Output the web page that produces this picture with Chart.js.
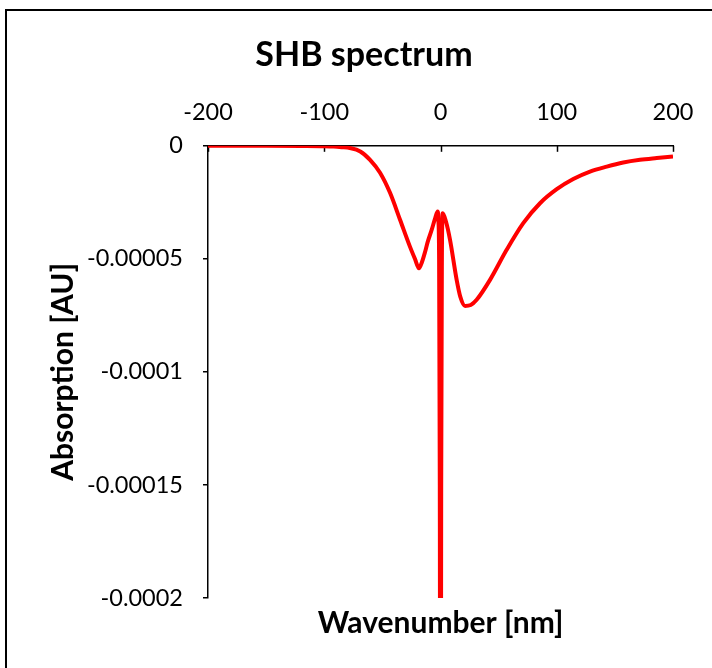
<!DOCTYPE html>
<html>
<head>
<meta charset="utf-8">
<title>SHB spectrum</title>
<script src="https://cdn.jsdelivr.net/npm/chart.js@4"></script>
<style>
  html, body { margin: 0; padding: 0; background: #fff; overflow: hidden; }
  #frame { position: absolute; left: 5px; top: 9px; width: 800px; height: 800px; border: 2px solid #000; }
  #wrap { position: absolute; left: 0; top: 0; width: 712px; height: 668px; }
</style>
</head>
<body>
<div id="frame"></div>
<div id="wrap"><canvas id="shbChart" width="712" height="668"></canvas></div>
<script>
// spectrum samples (wavenumber, absorption)
const wavenumber = [
  -200, -150, -120, -100, -92, -85, -78, -69, -60.6, -52, -43.4, -34.8, -26.2,
  -22, -18.5, -16, -13.3, -11, -7.6, -4.7, -2.4, -1.8, -1.2, -0.6, 0, 0.6, 1.2, 1.5, 1.9,
  4.7, 8.2, 13.9, 17, 21.1, 26, 31.1, 42.6, 56.9, 71.2, 85.6, 100, 114.2,
  128.6, 143, 157.2, 171.6, 186, 200
];
const absorption = [
  0, 0, -0.00000005, -0.00000015, -0.0000003, -0.0000006, -0.000001, -0.0000025,
  -0.0000062, -0.0000119, -0.0000208, -0.0000327, -0.0000447,
  -0.00005, -0.0000542, -0.0000515, -0.000047, -0.0000425, -0.0000372, -0.0000322, -0.0000291,
  -0.000033, -0.00005, -0.00015, -0.0004, -0.00015, -0.00005, -0.000034, -0.0000298,
  -0.0000335, -0.0000416, -0.0000593, -0.0000667, -0.0000708, -0.0000704, -0.0000681,
  -0.0000593, -0.000046, -0.0000342, -0.0000254, -0.0000192, -0.0000147,
  -0.0000114, -0.0000092, -0.0000074, -0.0000062, -0.0000054, -0.0000047
];
const xTicks = [-200, -100, 0, 100, 200];
const yTicks = [0, -0.00005, -0.0001, -0.00015, -0.0002];

const points = wavenumber.map((x, i) => ({ x: x, y: absorption[i] }));

// x ticks point down into the plot area
const innerTicks = {
  id: 'innerTicks',
  beforeDatasetsDraw(chart) {
    const sx = chart.scales.x;
    const ctx = chart.ctx;
    ctx.save();
    ctx.strokeStyle = '#000';
    ctx.lineWidth = 1.5;
    sx.ticks.forEach(t => {
      const px = Math.round(sx.getPixelForValue(t.value)) + 0.5;
      ctx.beginPath();
      ctx.moveTo(px, sx.bottom);
      ctx.lineTo(px, sx.bottom + 6);
      ctx.stroke();
    });
    ctx.restore();
  }
};

const labelFont = { family: 'Lato', size: 23.5 };
const axisTitleFont = { family: 'Lato', size: 30, weight: 'bold' };

new Chart(document.getElementById('shbChart'), {
  type: 'line',
  data: {
    datasets: [{
      label: 'SHB',
      data: points,
      borderColor: '#ff0000',
      borderWidth: 4,
      pointRadius: 0,
      fill: false,
      cubicInterpolationMode: 'monotone'
    }]
  },
  options: {
    responsive: false,
    animation: false,
    layout: { padding: { left: 16, right: 0, top: 0, bottom: 0 } },
    plugins: {
      legend: { display: false },
      tooltip: { enabled: false },
      title: {
        display: true,
        text: 'SHB spectrum',
        color: '#000',
        font: { family: 'Lato', size: 34, weight: 'bold' },
        padding: { top: 35, bottom: 0 }
      }
    },
    scales: {
      x: {
        type: 'linear',
        position: 'top',
        min: -200,
        max: 200,
        afterBuildTicks: s => { s.ticks = xTicks.map(v => ({ value: v })); },
        afterFit: s => { s.height = 70; },
        grid: { display: false },
        border: { color: '#000', width: 1.5 },
        ticks: { color: '#000', font: labelFont, padding: 11, maxRotation: 0 }
      },
      x2: {
        type: 'linear',
        position: 'bottom',
        min: -200,
        max: 200,
        afterFit: s => { s.height = 70; },
        grid: { display: false },
        border: { display: false },
        ticks: { display: false },
        title: {
          display: true,
          text: 'Wavenumber [nm]',
          color: '#000',
          font: axisTitleFont,
          padding: { top: 0, bottom: 27 }
        }
      },
      y: {
        type: 'linear',
        min: -0.0002,
        max: 0,
        afterBuildTicks: s => { s.ticks = yTicks.map(v => ({ value: v })); },
        afterFit: s => { s.width = 192; },
        grid: { drawOnChartArea: false, tickLength: 5, color: '#000', lineWidth: 1.5 },
        border: { color: '#000', width: 1.5 },
        ticks: { color: '#000', font: labelFont, padding: 20, callback: v => String(v) },
        title: {
          display: true,
          text: 'Absorption [AU]',
          color: '#000',
          font: axisTitleFont,
          padding: { top: 29, bottom: 0 }
        }
      },
      // empty margin on the right side of the plot
      yRight: {
        type: 'linear',
        position: 'right',
        min: -0.0002,
        max: 0,
        afterFit: s => { s.width = 39; },
        grid: { display: false },
        border: { display: false },
        ticks: { display: false }
      }
    }
  },
  plugins: [innerTicks]
});
</script>
</body>
</html>
